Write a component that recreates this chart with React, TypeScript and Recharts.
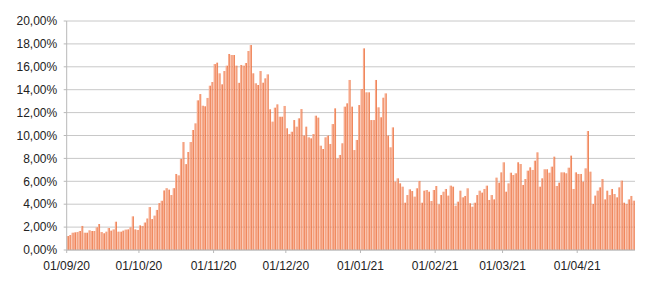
import { BarChart, Bar, XAxis, YAxis, CartesianGrid } from "recharts";

// daily share (%) per month
const sep20 = [
  1.22, 1.31, 1.51, 1.54, 1.57, 1.66, 2.1, 1.51, 1.51, 1.72,
  1.66, 1.66, 1.98, 2.27, 1.57, 1.46, 1.6, 1.92, 1.69, 1.8,
  2.47, 1.6, 1.6, 1.69, 1.78, 1.8, 1.98, 2.94, 1.8, 1.75,
];
const oct20 = [
  2.15, 2.1, 2.4, 2.75, 3.75, 2.7, 3.0, 3.5, 4.1, 4.3,
  5.2, 5.4, 5.27, 4.8, 5.4, 6.64, 6.52, 7.95, 9.43, 7.5,
  8.56, 9.43, 10.48, 11.06, 13.07, 13.62, 12.6, 12.55, 13.28, 14.35,
  14.67,
];
const nov20 = [
  16.24, 16.36, 15.43, 14.47, 15.63, 16.1, 17.12, 17.03, 17.03, 16.1,
  14.6, 16.16, 16.1, 16.33, 17.38, 17.9, 15.43, 14.56, 14.41, 15.63,
  14.61, 14.99, 15.34, 12.29, 11.21, 12.43, 12.72, 11.64, 11.64, 12.58,
];
const dec20 = [
  10.63, 10.13, 10.33, 11.35, 10.77, 11.5, 12.31, 9.99, 10.77, 9.84,
  9.75, 10.13, 11.73, 11.56, 9.11, 8.82, 9.84, 9.99, 9.26, 11.0,
  12.37, 8.0, 8.3, 9.32, 12.52, 12.81, 14.85, 12.52, 8.73, 9.61,
  12.66,
];
const jan21 = [
  14.06, 17.61, 13.77, 13.77, 11.35, 11.35, 14.85, 12.46, 11.59, 13.3,
  13.68, 9.99, 8.97, 10.71, 5.97, 6.26, 5.82, 5.53, 4.13, 4.8,
  5.3, 5.15, 4.66, 5.39, 6.03, 4.13, 5.18, 5.24, 5.09, 4.28,
  5.24,
];
const feb21 = [
  5.59, 3.99, 4.8, 5.09, 5.33, 4.75, 5.62, 5.53, 3.87, 4.22,
  5.18, 4.6, 4.72, 5.39, 4.08, 3.78, 4.13, 4.8, 5.18, 5.01,
  5.33, 5.62, 4.37, 4.8, 4.42, 6.32, 5.88, 6.78,
];
const mar21 = [
  7.66, 5.09, 5.82, 6.75, 6.55, 6.7, 7.66, 7.51, 5.68, 6.2,
  6.93, 7.22, 6.99, 7.8, 8.53, 5.53, 6.26, 7.05, 7.05, 6.75,
  7.28, 8.15, 5.59, 5.88, 6.78, 6.78, 6.7, 7.19, 8.24, 5.33,
  6.78,
];
const apr21 = [
  6.64, 6.64, 5.97, 7.13, 10.39, 6.84, 4.02, 4.75, 5.18, 5.47,
  6.2, 4.42, 5.18, 4.8, 5.33, 4.89, 4.6, 5.47, 6.06, 4.13,
  4.02, 4.42, 4.72, 4.31,
];

const monthKeys = ["09/20", "10/20", "11/20", "12/20", "01/21", "02/21", "03/21", "04/21"];
const monthValues = [sep20, oct20, nov20, dec20, jan21, feb21, mar21, apr21];

const xTicks = ["01/09/20", "01/10/20", "01/11/20", "01/12/20", "01/01/21", "01/02/21", "01/03/21", "01/04/21"];
const yTicks = [0, 2, 4, 6, 8, 10, 12, 14, 16, 18, 20];

const data = monthKeys.flatMap((key, m) =>
  monthValues[m].map((v, i) => ({
    date: `${String(i + 1).padStart(2, "0")}/${key}`,
    value: v,
  }))
);

const WIDTH = 650;
const HEIGHT = 288;
const Y_AXIS_W = 66.7;
const RIGHT = 15;
const BAND = (WIDTH - Y_AXIS_W - RIGHT) / data.length;

const GRID = "#c8c8c8";
const AXIS = "#b8b8b8";
const LIGHT = "#f8ad90";
const DARK = "#e95e24";
const FONT = "'Liberation Sans', Arial, sans-serif";

const fmtPct = (v: number) => v.toFixed(2).replace(".", ",") + "%";

function DayBar(props: any) {
  const { x, y, height } = props;
  if (!height || height <= 0) return null;
  return (
    <g>
      <rect x={x} y={y} width={1.35} height={height} fill={LIGHT} />
      <rect x={x + 1.35} y={y} width={0.7} height={height} fill={DARK} />
    </g>
  );
}

// ticks sit on the category boundaries, not the centres
function MonthTick(props: any) {
  const { x, y, payload } = props;
  const cx = x - BAND / 2;
  return (
    <g>
      <line x1={cx} y1={y - 3} x2={cx} y2={y} stroke={AXIS} />
      <text x={cx} y={y + 17} textAnchor="middle" fontSize={12} fontFamily={FONT} fill="#222">
        {payload.value}
      </text>
    </g>
  );
}

export default function App() {
  return (
    <div style={{ position: "absolute", left: 0, top: 0 }}>
      <BarChart
        width={WIDTH}
        height={HEIGHT}
        data={data}
        margin={{ top: 21, right: RIGHT, bottom: 8, left: 0 }}
        barCategoryGap={0}
        barGap={0}
      >
        <CartesianGrid vertical={false} stroke={GRID} />
        <XAxis
          dataKey="date"
          ticks={xTicks}
          interval={0}
          height={30}
          tick={<MonthTick />}
          tickLine={false}
          tickSize={3}
          tickMargin={0}
          axisLine={{ stroke: AXIS }}
        />
        <YAxis
          width={Y_AXIS_W}
          domain={[0, 20]}
          ticks={yTicks}
          interval={0}
          tickFormatter={fmtPct}
          tickSize={3}
          tickMargin={6.5}
          tickLine={{ stroke: AXIS }}
          axisLine={{ stroke: AXIS }}
          tick={{ fill: "#222", fontSize: 12, fontFamily: FONT }}
        />
        <YAxis
          yAxisId="border"
          orientation="right"
          width={0}
          domain={[0, 1]}
          tick={false}
          tickLine={false}
          axisLine={{ stroke: AXIS }}
        />
        <Bar dataKey="value" shape={<DayBar />} isAnimationActive={false} />
      </BarChart>
    </div>
  );
}
